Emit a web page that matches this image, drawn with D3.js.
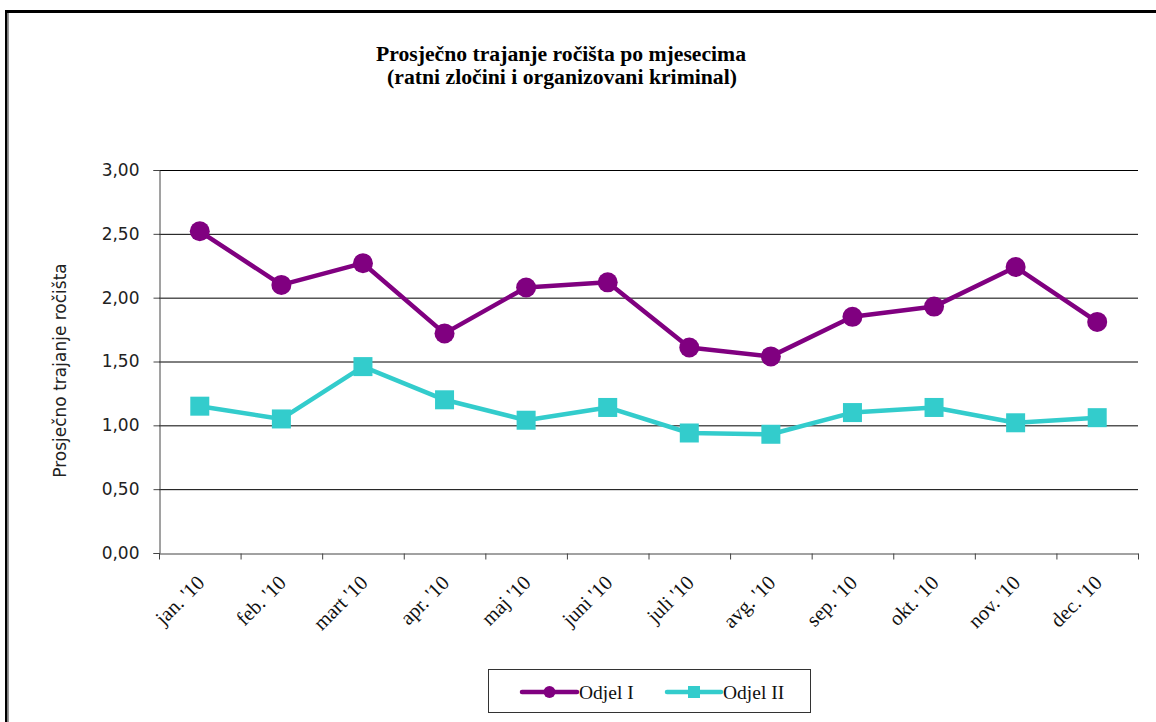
<!DOCTYPE html>
<html><head><meta charset="utf-8">
<script src="https://cdn.jsdelivr.net/npm/d3@7"></script>
<style>body{margin:0;background:#fff}svg{display:block}</style>
</head><body>
<script>
const categories = ["jan. '10","feb. '10","mart '10","apr. '10","maj '10","juni '10","juli '10","avg. '10","sep. '10","okt. '10","nov. '10","dec. '10"];
const odjel1 = [2.52,2.10,2.27,1.72,2.08,2.12,1.61,1.54,1.85,1.93,2.24,1.81];
const odjel2 = [1.15,1.05,1.46,1.20,1.04,1.14,0.94,0.93,1.10,1.14,1.02,1.06];
const yTicks = [0,0.5,1,1.5,2,2.5,3];
const seriesNames = ["Odjel I","Odjel II"];
const colors = ["#800080","#33CCCC"];

const W=1156,H=722;
const svg=d3.select("body").append("svg").attr("width",W).attr("height",H);
// frame
svg.append("rect").attr("x",5).attr("y",10).attr("width",W-5).attr("height",3).attr("fill","#000");
svg.append("rect").attr("x",5).attr("y",10).attr("width",2.5).attr("height",H-10).attr("fill","#000");
svg.append("rect").attr("x",8).attr("y",13).attr("width",1).attr("height",H-13).attr("fill","#999");

const L=159,R=1138,T=170,B=553;
const x=d3.scaleBand().domain(categories).range([L,R]);
const y=d3.scaleLinear().domain([0,3]).range([B,T]);

// title
const tf="'Liberation Serif','Times New Roman',serif";
svg.append("text").attr("x",561).attr("y",61).attr("text-anchor","middle").attr("font-family",tf)
  .attr("font-weight","bold").attr("font-size",20).attr("textLength",370).attr("lengthAdjust","spacingAndGlyphs")
  .text("Prosječno trajanje ročišta po mjesecima");
svg.append("text").attr("x",562).attr("y",84).attr("text-anchor","middle").attr("font-family",tf)
  .attr("font-weight","bold").attr("font-size",20).attr("textLength",350).attr("lengthAdjust","spacingAndGlyphs")
  .text("(ratni zločini i organizovani kriminal)");

// gridlines
svg.append("g").selectAll("line").data(yTicks.filter(d=>d>0)).join("line")
  .attr("x1",L).attr("x2",R).attr("y1",d=>y(d)+0.5).attr("y2",d=>y(d)+0.5)
  .attr("stroke","#000").attr("stroke-width",1);

// y axis
const fmt=d=>d3.format(".2f")(d).replace(".",",");
const ya=svg.append("g").attr("transform",`translate(${L+0.5},0)`)
  .call(d3.axisLeft(y).tickValues(yTicks).tickFormat(fmt).tickSize(6).tickPadding(14));
ya.select(".domain").attr("stroke","#444");
ya.selectAll(".tick line").attr("stroke","#444");
ya.selectAll("text").attr("font-family","'DejaVu Sans',Verdana,sans-serif").attr("font-size",17).attr("fill","#222");

// x axis
const xa=svg.append("g").attr("transform",`translate(0,${B+0.5})`)
  .call(d3.axisBottom(x).tickSize(0).tickFormat(""));
xa.select(".domain").attr("stroke","#444");
const bounds=[...categories.map(c=>x(c)),R];
xa.selectAll(".bt").data(bounds).join("line").attr("class","bt")
  .attr("x1",d=>d+0.5).attr("x2",d=>d+0.5).attr("y1",0).attr("y2",6).attr("stroke","#444");
svg.append("g").selectAll("text").data(categories).join("text")
  .attr("transform",d=>`translate(${x(d)+x.bandwidth()/2+6},${B+31}) rotate(-45)`)
  .attr("text-anchor","end").attr("font-family",tf).attr("font-size",20.5).attr("fill","#111").text(d=>d);

// y label
svg.append("text").attr("transform",`translate(66,${(T+B)/2+9}) rotate(-90)`).attr("text-anchor","middle")
  .attr("font-family","'DejaVu Sans',Verdana,sans-serif").attr("font-size",17).attr("fill","#222")
  .text("Prosječno trajanje ročišta");

// series
const cx=c=>x(c)+x.bandwidth()/2;
const line=d3.line().x((d,i)=>cx(categories[i])).y(d=>y(d));
svg.append("path").datum(odjel1).attr("d",line).attr("fill","none").attr("stroke",colors[0]).attr("stroke-width",4.5).attr("stroke-linejoin","round");
svg.append("path").datum(odjel2).attr("d",line).attr("fill","none").attr("stroke",colors[1]).attr("stroke-width",4.5).attr("stroke-linejoin","round");
svg.append("g").selectAll("circle").data(odjel1).join("circle")
  .attr("cx",(d,i)=>cx(categories[i])).attr("cy",d=>y(d)).attr("r",10).attr("fill",colors[0]);
svg.append("g").selectAll("rect").data(odjel2).join("rect")
  .attr("x",(d,i)=>cx(categories[i])-9.5).attr("y",d=>y(d)-9.5).attr("width",19).attr("height",19).attr("fill",colors[1]);

// legend
svg.append("rect").attr("x",488.5).attr("y",669.5).attr("width",322).attr("height",43).attr("fill","#fff").attr("stroke","#333").attr("stroke-width",1);
const lg=[{x1:522,x2:577,tx:579},{x1:667,x2:721,tx:723}];
lg.forEach((g,i)=>{
  svg.append("line").attr("x1",g.x1).attr("x2",g.x2).attr("y1",692).attr("y2",692).attr("stroke",colors[i]).attr("stroke-width",4.5).attr("stroke-linecap","round");
  const m=(g.x1+g.x2)/2;
  if(i===0) svg.append("circle").attr("cx",m).attr("cy",692).attr("r",6).attr("fill",colors[0]);
  else svg.append("rect").attr("x",m-6).attr("y",686).attr("width",12).attr("height",12).attr("fill",colors[1]);
  svg.append("text").attr("x",g.tx).attr("y",699).attr("font-family",tf).attr("font-size",19.5).attr("fill","#111").text(seriesNames[i]);
});
</script>
</body></html>
